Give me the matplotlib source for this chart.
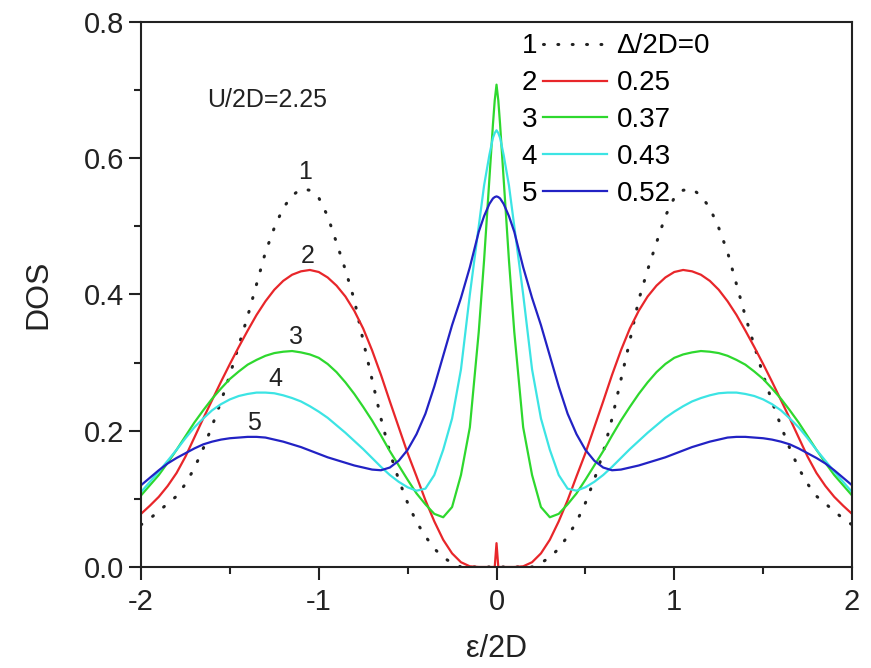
import matplotlib
matplotlib.use("Agg")
import matplotlib.pyplot as plt
from matplotlib.lines import Line2D
from matplotlib.ticker import MultipleLocator, FormatStrFormatter

plt.rcParams['font.family'] = ['Liberation Sans', 'DejaVu Sans']
plt.rcParams['axes.unicode_minus'] = False

# energy grid (eps/2D), finer near the central peak
eps = [-2.0, -1.95, -1.9, -1.85, -1.8, -1.75, -1.7, -1.65, -1.6, -1.55, -1.5, -1.45, -1.4,
       -1.35, -1.3, -1.25, -1.2, -1.15, -1.1, -1.05, -1.0, -0.95, -0.9, -0.85, -0.8, -0.75,
       -0.7, -0.65, -0.6, -0.55, -0.5, -0.45, -0.4, -0.35, -0.3, -0.25, -0.2, -0.15, -0.1,
       -0.07, -0.04, -0.02, -0.01, 0.0, 0.01, 0.02, 0.04, 0.07, 0.1, 0.15, 0.2, 0.25, 0.3,
       0.35, 0.4, 0.45, 0.5, 0.55, 0.6, 0.65, 0.7, 0.75, 0.8, 0.85, 0.9, 0.95, 1.0, 1.05,
       1.1, 1.15, 1.2, 1.25, 1.3, 1.35, 1.4, 1.45, 1.5, 1.55, 1.6, 1.65, 1.7, 1.75, 1.8,
       1.85, 1.9, 1.95, 2.0]

# DOS, one list per Delta/2D
dos_0 = [0.062, 0.071, 0.082, 0.093, 0.104, 0.122, 0.145, 0.174, 0.207, 0.243, 0.282, 0.325,
         0.368, 0.415, 0.462, 0.498, 0.527, 0.545, 0.555, 0.553, 0.542, 0.515, 0.476, 0.436,
         0.392, 0.332, 0.275, 0.218, 0.168, 0.128, 0.094, 0.066, 0.045, 0.027, 0.014, 0.006,
         0.0, 0.0, 0.0, 0.0, 0.0, 0.0, 0.0,
         0.0,
         0.0, 0.0, 0.0, 0.0, 0.0, 0.0, 0.0,
         0.006, 0.014, 0.027, 0.045, 0.066, 0.094, 0.128, 0.168, 0.218, 0.275, 0.332, 0.392,
         0.436, 0.476, 0.515, 0.542, 0.553, 0.555, 0.545, 0.527, 0.498, 0.462, 0.415, 0.368,
         0.325, 0.282, 0.243, 0.207, 0.174, 0.145, 0.122, 0.104, 0.093, 0.082, 0.071, 0.062]
dos_025 = [0.078, 0.090, 0.103, 0.119, 0.138, 0.162, 0.190, 0.218, 0.245, 0.272, 0.298, 0.323,
           0.347, 0.370, 0.390, 0.407, 0.420, 0.429, 0.434, 0.436, 0.433, 0.425, 0.413, 0.397,
           0.376, 0.350, 0.318, 0.282, 0.243, 0.205, 0.167, 0.133, 0.098, 0.067, 0.040, 0.020,
           0.007, 0.001, 0.0, 0.0, 0.0, 0.0, 0.0,
           0.035,
           0.0, 0.0, 0.0, 0.0, 0.0, 0.001, 0.007,
           0.020, 0.040, 0.067, 0.098, 0.133, 0.167, 0.205, 0.243, 0.282, 0.318, 0.350, 0.376,
           0.397, 0.413, 0.425, 0.433, 0.436, 0.434, 0.429, 0.420, 0.407, 0.390, 0.370, 0.347,
           0.323, 0.298, 0.272, 0.245, 0.218, 0.190, 0.162, 0.138, 0.119, 0.103, 0.090, 0.078]
dos_037 = [0.105, 0.120, 0.135, 0.153, 0.172, 0.192, 0.212, 0.230, 0.247, 0.262, 0.276, 0.287,
           0.297, 0.304, 0.310, 0.314, 0.316, 0.317, 0.315, 0.312, 0.307, 0.298, 0.286, 0.271,
           0.254, 0.235, 0.215, 0.193, 0.170, 0.149, 0.128, 0.108, 0.092, 0.078, 0.073, 0.088,
           0.135, 0.205, 0.345, 0.450, 0.570, 0.650, 0.685,
           0.708,
           0.685, 0.650, 0.570, 0.450, 0.345, 0.205, 0.135,
           0.088, 0.073, 0.078, 0.092, 0.108, 0.128, 0.149, 0.170, 0.193, 0.215, 0.235, 0.254,
           0.271, 0.286, 0.298, 0.307, 0.312, 0.315, 0.317, 0.316, 0.314, 0.310, 0.304, 0.297,
           0.287, 0.276, 0.262, 0.247, 0.230, 0.212, 0.192, 0.172, 0.153, 0.135, 0.120, 0.105]
dos_043 = [0.110, 0.125, 0.140, 0.156, 0.172, 0.189, 0.205, 0.218, 0.230, 0.239, 0.246, 0.251,
           0.254, 0.256, 0.256, 0.255, 0.252, 0.248, 0.243, 0.236, 0.228, 0.219, 0.208, 0.197,
           0.185, 0.173, 0.160, 0.147, 0.135, 0.125, 0.117, 0.112, 0.115, 0.135, 0.172, 0.218,
           0.290, 0.400, 0.500, 0.560, 0.605, 0.630, 0.637,
           0.641,
           0.637, 0.630, 0.605, 0.560, 0.500, 0.400, 0.290,
           0.218, 0.172, 0.135, 0.115, 0.112, 0.117, 0.125, 0.135, 0.147, 0.160, 0.173, 0.185,
           0.197, 0.208, 0.219, 0.228, 0.236, 0.243, 0.248, 0.252, 0.255, 0.256, 0.256, 0.254,
           0.251, 0.246, 0.239, 0.230, 0.218, 0.205, 0.189, 0.172, 0.156, 0.140, 0.125, 0.110]
dos_052 = [0.120, 0.131, 0.142, 0.152, 0.160, 0.167, 0.174, 0.180, 0.184, 0.187, 0.189, 0.190,
           0.191, 0.191, 0.190, 0.187, 0.184, 0.180, 0.176, 0.171, 0.166, 0.161, 0.157, 0.153,
           0.149, 0.146, 0.143, 0.142, 0.146, 0.156, 0.172, 0.195, 0.225, 0.265, 0.310, 0.355,
           0.395, 0.440, 0.492, 0.515, 0.533, 0.541, 0.543,
           0.544,
           0.543, 0.541, 0.533, 0.515, 0.492, 0.440, 0.395,
           0.355, 0.310, 0.265, 0.225, 0.195, 0.172, 0.156, 0.146, 0.142, 0.143, 0.146, 0.149,
           0.153, 0.157, 0.161, 0.166, 0.171, 0.176, 0.180, 0.184, 0.187, 0.190, 0.191, 0.191,
           0.190, 0.189, 0.187, 0.184, 0.180, 0.174, 0.167, 0.160, 0.152, 0.142, 0.131, 0.120]

series = [dos_0, dos_025, dos_037, dos_043, dos_052]
curve_ids = ['1', '2', '3', '4', '5']
delta_labels = ['\u0394/2D=0', '0.25', '0.37', '0.43', '0.52']
colors = ['#222222', '#e8262a', '#2ed82e', '#3ce4e4', '#2222c4']

# where the curve numbers sit (data coords, above the left band maxima)
id_pos = [(-1.075, 0.58), (-1.065, 0.457), (-1.13, 0.338), (-1.243, 0.276), (-1.365, 0.212)]

fig = plt.figure(figsize=(8.71, 6.68), dpi=100)
ax = fig.add_axes([0.1619, 0.1512, 0.8163, 0.8159])

handles = []
for i, (y, c) in enumerate(zip(series, colors)):
    if i == 0:
        ln, = ax.plot(eps, y, color=c, lw=2.2, linestyle=(0, (0.3, 4.4)),
                      dash_capstyle='round')
    else:
        ln, = ax.plot(eps, y, color=c, lw=1.6)
    handles.append(ln)

for cid, (px, py) in zip(curve_ids, id_pos):
    ax.text(px, py, cid, fontsize=18, ha='center', va='center', color='#222222')

ax.text(-1.63, 0.685, 'U/2D=2.25', fontsize=18, ha='left', va='center', color='#222222')

# legend: line samples with Delta values, plus the curve numbers on the left
leg = ax.legend(handles, delta_labels, loc='upper left', bbox_to_anchor=(0.565, 0.979),
                frameon=False, fontsize=20, handlelength=2.3, handletextpad=0.36,
                labelspacing=0.39, borderpad=0, borderaxespad=0)
ax.add_artist(leg)
blank = [Line2D([], [], linestyle='none') for _ in curve_ids]
ax.legend(blank, curve_ids, loc='upper left', bbox_to_anchor=(0.535, 0.979),
          frameon=False, fontsize=20, handlelength=0, handletextpad=0,
          labelspacing=0.39, borderpad=0, borderaxespad=0)

ax.set_xlim(-2, 2)
ax.set_ylim(0, 0.8)
ax.xaxis.set_major_locator(MultipleLocator(1))
ax.xaxis.set_minor_locator(MultipleLocator(0.5))
ax.yaxis.set_major_locator(MultipleLocator(0.2))
ax.yaxis.set_minor_locator(MultipleLocator(0.1))
ax.yaxis.set_major_formatter(FormatStrFormatter('%.1f'))
ax.tick_params(which='both', direction='out', top=False, right=False, width=1.5,
               color='#222222', labelsize=21, labelcolor='#222222')
ax.tick_params(which='major', length=9)
ax.tick_params(which='minor', length=5)
ax.tick_params(axis='x', pad=6)
ax.tick_params(axis='y', pad=3)
for s in ax.spines.values():
    s.set_linewidth(1.5)
    s.set_color('#222222')

ax.set_xlabel('\u03b5/2D', fontsize=22, labelpad=13, color='#222222')
ax.set_ylabel('DOS', fontsize=23, labelpad=22, color='#222222')

fig.savefig('out.png', dpi=100)
